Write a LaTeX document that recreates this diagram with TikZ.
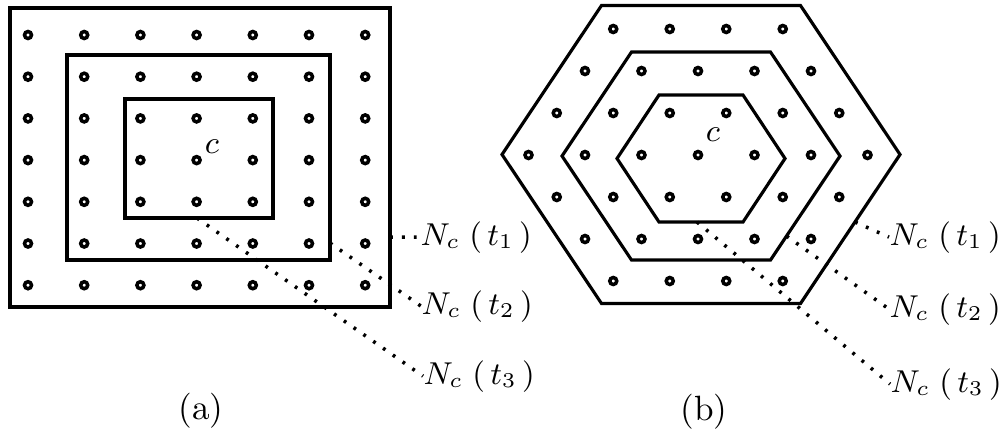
\documentclass[tikz,border=0pt]{standalone}
\begin{document}
\begin{tikzpicture}[
    ring/.style={line width=1pt},
    boxline/.style={line width=1.1pt},
    hexline/.style={line width=0.9pt},
    leader/.style={line width=1pt, dash pattern=on 0.8pt off 2.6pt},
    nlabel/.style={anchor=base west, inner sep=0pt, font=\fontsize{9}{11}\selectfont},
  ]
  \useasboundingbox (0,0) rectangle (10.05,4.32);

  % (a) square lattice
  \foreach \i in {0,...,6}
    \foreach \j in {0,...,6}
      \draw[ring] (0.28+0.562*\i, 3.97-0.417*\j) circle (0.035);
  \draw[boxline] (0.10,1.25) rectangle (3.90,4.24);
  \draw[boxline] (0.67,1.72) rectangle (3.30,3.77);
  \draw[boxline] (1.25,2.14) rectangle (2.73,3.33);
  \node (ca) at (2.12,2.85) [font=\fontsize{9}{11}\selectfont] {$c$};

  \coordinate (sqOut-e) at (3.90,1.95);
  \coordinate (sqMid-e) at (3.30,1.89);
  \coordinate (sqIn-s) at (1.97,2.14);

  \node (na1) at (4.20,1.87) [nlabel] {$N_{c}\;(\,t_{1}\,)$};
  \node (na2) at (4.21,1.18) [nlabel] {$N_{c}\;(\,t_{2}\,)$};
  \node (na3) at (4.23,0.48) [nlabel] {$N_{c}\;(\,t_{3}\,)$};

  \draw[leader] (sqOut-e) -- (na1.west);
  \draw[leader] (sqMid-e) -- (na2.west);
  \draw[leader] (sqIn-s) -- (na3.west);

  \node (capa) at (2.01,0.21) {(a)};

  % (b) hexagonal lattice
  \foreach \r in {-3,...,3} {
    \pgfmathtruncatemacro{\n}{6-abs(\r)}
    \foreach \k in {0,...,\n}
      \draw[ring] (6.98+0.565*\k-0.2825*\n, 2.77+0.42*\r) circle (0.035);
  }
  \foreach \a/\b/\cy in {1.99/1.49/2.775, 1.39/1.04/2.76, 0.84/0.635/2.735}
    \draw[hexline] (7.01+\a,\cy) -- ++(-\a/2,-\b) -- ++(-\a,0) -- ++(-\a/2,\b)
      -- ++(\a/2,\b) -- ++(\a,0) -- cycle;
  \node (cb) at (7.13,2.97) [font=\fontsize{9}{11}\selectfont] {$c$};

  \coordinate (hexOut-e) at (8.55,2.10);
  \coordinate (hexMid-e) at (7.865,1.96);
  \coordinate (hexIn-s) at (6.97,2.10);

  \node (nb1) at (8.89,1.87) [nlabel] {$N_{c}\;(\,t_{1}\,)$};
  \node (nb2) at (8.89,1.15) [nlabel] {$N_{c}\;(\,t_{2}\,)$};
  \node (nb3) at (8.90,0.40) [nlabel] {$N_{c}\;(\,t_{3}\,)$};

  \draw[leader] (hexOut-e) -- (nb1.west);
  \draw[leader] (hexMid-e) -- (nb2.west);
  \draw[leader] (hexIn-s) -- (nb3.west);

  \node (capb) at (7.04,0.20) {(b)};
\end{tikzpicture}
\end{document}
